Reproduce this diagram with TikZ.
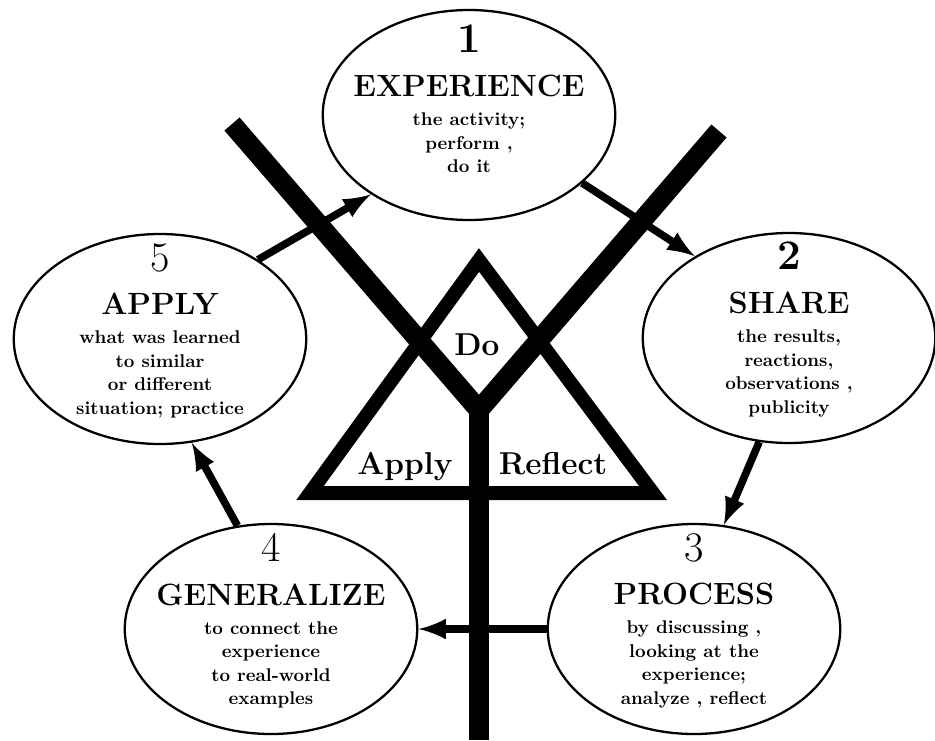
\documentclass[tikz,border=0pt]{standalone}
\usepackage{tikz}
\usetikzlibrary{positioning,shapes,arrows}

\newcommand{\stagenum}[1]{{\fontsize{24}{24}\selectfont\mdseries #1}}
\newcommand{\stagename}[1]{{\fontsize{17.5}{17.5}\selectfont\bfseries #1}}

\begin{document}
\begin{tikzpicture}[
	stage/.style={draw, ellipse, fill=white, line width=1.3pt, minimum width=5.85cm, minimum height=4.2cm, inner sep=0pt},
	stagetext/.style={align=center, inner sep=0pt, font=\fontsize{10.5}{13.4}\selectfont\bfseries},
	flow/.style={-latex, line width=4.3pt},
	limb/.style={line width=0.4cm},
	frame/.style={line width=0.28cm, line join=miter},
	corner/.style={font=\fontsize{18}{18}\selectfont\bfseries, anchor=base, inner sep=0pt}
	]

	\path[use as bounding box, fill=white] (0,0) rectangle (18.7,-14.8);

	% Y and triangle
	\coordinate (armL) at (4.64,-2.48);
	\coordinate (armR) at (14.38,-2.62);
	\coordinate (fork) at (9.58,-8.20);
	\coordinate (root) at (9.58,-14.8);
	\coordinate (top) at (9.58,-5.20);
	\coordinate (baseL) at (6.20,-9.86);
	\coordinate (baseR) at (13.06,-9.86);

	\draw[limb] (armL) -- (fork) -- (armR);
	\draw[limb] (fork) -- (root);
	\draw[frame] (top) -- (baseL) -- (baseR) -- cycle;

	\node[corner] (do) at (9.54,-7.10) {Do};
	\node[corner] (apl) at (8.10,-9.48) {Apply};
	\node[corner] (refl) at (11.06,-9.48) {Reflect};

	% the five stages
	\node[stage] (exp) at (9.38,-2.30) {};
	\node[stage] (shr) at (15.78,-6.76) {};
	\node[stage] (proc) at (13.88,-12.58) {};
	\node[stage] (gen) at (5.42,-12.58) {};
	\node[stage] (app) at (3.20,-6.78) {};

	\node[stagetext, below=0.32cm of exp.north] (expt) {\stagenum{\textbf{1}}\\[11.5pt] \stagename{EXPERIENCE}\\[3pt] the activity;\\ perform ,\\ do it};
	\node[stagetext, below=0.2cm of shr.north] (shrt) {\stagenum{\textbf{2}}\\[11.5pt] \stagename{SHARE}\\[3pt] the results,\\ reactions,\\ observations ,\\ publicity};
	\node[stagetext, below=0.2cm of proc.north] (proct) {\stagenum{3}\\[11.5pt] \stagename{PROCESS}\\[3pt] by discussing ,\\ looking at the\\ experience;\\ analyze , reflect};
	\node[stagetext, below=0.2cm of gen.north] (gent) {\stagenum{4}\\[11.5pt] \stagename{GENERALIZE}\\[3pt] to connect the\\ experience\\ to real-world\\ examples};
	\node[stagetext, below=0.2cm of app.north] (appt) {\stagenum{5}\\[11.5pt] \stagename{APPLY}\\[3pt] what was learned\\ to similar\\ or different\\ situation; practice};

	\path (app.39) edge[flow] (exp.219)
	(exp.329) edge[flow] (shr.139)
	(shr.254) edge[flow] (proc.74)
	(proc.west) edge[flow] (gen.east)
	(gen.108) edge[flow] (app.287);

\end{tikzpicture}
\end{document}
